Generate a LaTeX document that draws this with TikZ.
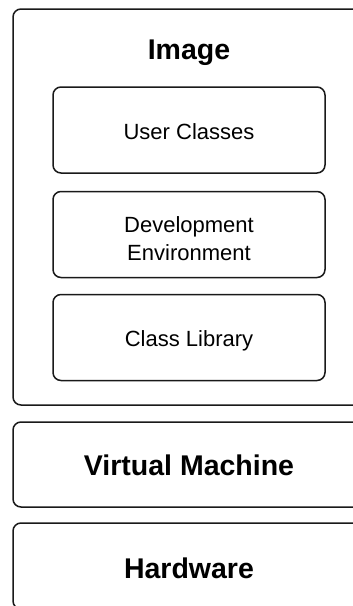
\documentclass[tikz,border=0pt]{standalone}
\usepackage{fontspec}
\setmainfont{Liberation Sans}
\begin{document}
\begin{tikzpicture}[x=1pt,y=-1pt,
  box/.style={draw=black!90, line width=1.5pt, rounded corners=8pt, inner sep=0pt},
  outerbox/.style={box, minimum width=352pt},
  innerbox/.style={box, minimum width=272pt, minimum height=86pt},
  label/.style={font=\fontsize{22}{28}\selectfont, inner sep=0pt, anchor=base, align=center},
  bigtitle/.style={font=\fontsize{28.5}{32}\selectfont\bfseries, inner sep=0pt, anchor=base}
]
\useasboundingbox (0,0) rectangle (353,606);
\clip (0,0) rectangle (353,606);
\node[outerbox, minimum height=396pt] (image) at (189,207) {};
\node[bigtitle] (imagetitle) at (189,59.3) {Image};
\node[innerbox] (user) at (189,130) {};
\node[label] (usertext) at (189,139) {User Classes};
\node[innerbox] (dev) at (189,234.5) {};
\node[label] (devtext) at (189,260) {Development\\Environment};
\node[innerbox] (lib) at (189,337.5) {};
\node[label] (libtext) at (189,346.5) {Class Library};
\node[outerbox, minimum height=85pt] (vm) at (189,464.5) {};
\node[bigtitle] (vmtext) at (189,475.3) {Virtual Machine};
\node[outerbox, minimum height=86pt] (hw) at (189,566) {};
\node[bigtitle] (hwtext) at (189,578.3) {Hardware};
\end{tikzpicture}
\end{document}
